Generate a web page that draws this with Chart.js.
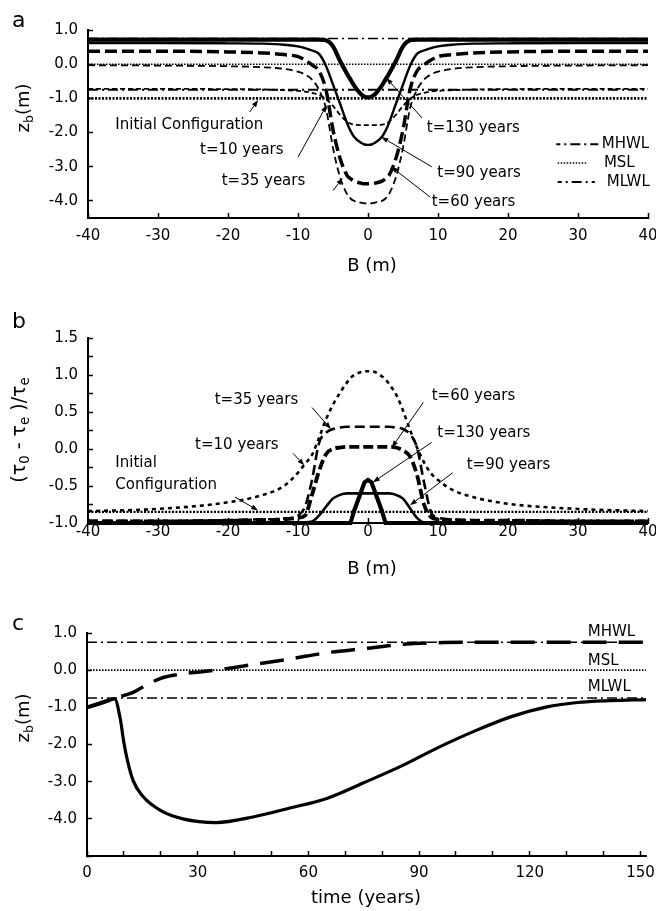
<!DOCTYPE html>
<html><head><meta charset="utf-8">
<script src="https://cdn.jsdelivr.net/npm/chart.js@4.4.0/dist/chart.umd.min.js"></script>
<style>
html,body{margin:0;padding:0;background:#fff;}
#wrap{position:relative;width:656px;height:911px;background:#fff;}
canvas{position:absolute;left:0;display:block;}
</style></head><body>
<div id="wrap">
<canvas id="ca" width="656" height="300" style="top:0;width:656px;height:300px"></canvas>
<canvas id="cb" width="656" height="300" style="top:300px;width:656px;height:300px"></canvas>
<canvas id="cc" width="656" height="311" style="top:600px;width:656px;height:311px"></canvas>
</div>
<script>
// ---------- DATA ----------
const B = [-40,-30,-20,-15,-12,-10,-9,-8,-7,-6,-5,-4,-3,-2.5,-2,-1,-0.5,0,0.5,1,2,2.5,3,4,5,6,7,8,9,10,12,15,20,30,40];
const levelNames = ['MHWL','MSL','MLWL'];
const levelValues = [0.75, 0.0, -0.75];
const initialBedA = -1.0;
const initialStressB = -0.85;

// panel a: bed elevation z_b (m) vs B (m)
const aT10 = [-0.72,-0.72,-0.73,-0.74,-0.76,-0.78,-0.8,-0.84,-0.9,-1.02,-1.22,-1.48,-1.68,-1.74,-1.77,-1.78,-1.78,-1.78,
              -1.78,-1.78,-1.77,-1.74,-1.68,-1.48,-1.22,-1.02,-0.9,-0.84,-0.8,-0.78,-0.76,-0.74,-0.73,-0.72,-0.72];
const aT35 = [-0.03,-0.04,-0.06,-0.09,-0.14,-0.22,-0.3,-0.45,-0.75,-1.3,-2.45,-3.3,-3.8,-3.93,-4.0,-4.05,-4.07,-4.07,
              -4.07,-4.05,-4.0,-3.93,-3.8,-3.3,-2.45,-1.3,-0.75,-0.45,-0.3,-0.22,-0.14,-0.09,-0.06,-0.04,-0.03];
const aT60 = [0.38,0.38,0.36,0.33,0.28,0.22,0.12,-0.02,-0.2,-0.75,-1.92,-2.75,-3.25,-3.35,-3.42,-3.48,-3.5,-3.5,
              -3.5,-3.48,-3.42,-3.35,-3.25,-2.75,-1.92,-0.75,-0.2,-0.02,0.12,0.22,0.28,0.33,0.36,0.38,0.38];
const aT90 = [0.62,0.62,0.61,0.6,0.57,0.52,0.47,0.4,0.3,-0.05,-0.6,-1.15,-1.72,-1.95,-2.12,-2.3,-2.35,-2.36,
              -2.35,-2.3,-2.12,-1.95,-1.72,-1.15,-0.6,-0.05,0.3,0.4,0.47,0.52,0.57,0.6,0.61,0.62,0.62];
const aT130 = [0.72,0.72,0.72,0.72,0.72,0.72,0.72,0.72,0.72,0.7,0.52,0.1,-0.28,-0.45,-0.62,-0.88,-0.95,-0.97,
               -0.95,-0.88,-0.62,-0.45,-0.28,0.1,0.52,0.7,0.72,0.72,0.72,0.72,0.72,0.72,0.72,0.72,0.72];

// panel b: excess shear stress (tau0 - taue)/taue vs B (m)
const bT10 = [-0.84,-0.81,-0.72,-0.62,-0.5,-0.32,-0.2,-0.08,0.15,0.4,0.6,0.76,0.9,0.96,1.0,1.04,1.05,1.05,
              1.05,1.04,0.98,0.94,0.88,0.74,0.52,0.26,0.02,-0.18,-0.33,-0.42,-0.55,-0.65,-0.74,-0.81,-0.84];
const bT35 = [-0.97,-0.97,-0.96,-0.95,-0.94,-0.9,-0.78,-0.42,0.08,0.22,0.27,0.29,0.3,0.3,0.3,0.3,0.3,0.3,
              0.3,0.3,0.3,0.3,0.3,0.29,0.27,0.2,0.02,-0.45,-0.85,-0.93,-0.95,-0.96,-0.96,-0.97,-0.97];
const bT60 = [-0.98,-0.98,-0.97,-0.96,-0.95,-0.93,-0.9,-0.62,-0.3,-0.07,0.0,0.02,0.03,0.03,0.03,0.03,0.03,0.03,
              0.03,0.03,0.03,0.03,0.03,0.02,-0.02,-0.1,-0.35,-0.75,-0.92,-0.95,-0.96,-0.97,-0.97,-0.98,-0.98];
const bT90 = [-0.99,-0.99,-0.99,-0.99,-0.99,-0.99,-0.99,-0.98,-0.9,-0.78,-0.67,-0.62,-0.6,-0.6,-0.6,-0.6,-0.6,-0.6,
              -0.6,-0.6,-0.6,-0.6,-0.6,-0.62,-0.67,-0.8,-0.93,-0.99,-0.99,-0.99,-0.99,-0.99,-0.99,-0.99,-0.99];
const bT130 = [-1.0,-1.0,-1.0,-1.0,-1.0,-1.0,-1.0,-1.0,-1.0,-1.0,-1.0,-1.0,-1.0,-1.0,-0.84,-0.58,-0.45,-0.42,
               -0.45,-0.58,-0.84,-1.0,-1.0,-1.0,-1.0,-1.0,-1.0,-1.0,-1.0,-1.0,-1.0,-1.0,-1.0,-1.0,-1.0];

// panel c: z_b (m) vs time (years)
const time = [0,3,6,7.5,9,10,11,12.5,15,20,26,35,45,55,65,75,85,95,105,115,125,133,142,151.5];
const centerBed = [-1.0,-0.92,-0.82,-0.77,-1.3,-1.95,-2.45,-2.97,-3.38,-3.78,-4.0,-4.1,-3.95,-3.71,-3.45,-3.03,-2.59,-2.09,-1.64,-1.25,-0.98,-0.87,-0.82,-0.79];
const farBed = [-1.0,-0.9,-0.8,-0.75,-0.71,-0.68,-0.65,-0.6,-0.46,-0.22,-0.1,0.0,0.15,0.3,0.47,0.58,0.69,0.74,0.75,0.75,0.75,0.75,0.75,0.75];

// tick values / labels
const aXTicks = [-40,-30,-20,-10,0,10,20,30,40];
const aYTicks = [-4,-3,-2,-1,0,1];
const bXTicks = [-40,-30,-20,-10,0,10,20,30,40];
const bYTicks = [-1,-0.75,-0.5,-0.25,0,0.25,0.5,0.75,1,1.25,1.5];
const bYLabels = [-1,-0.5,0,0.5,1,1.5];
const cXTicks = [0,10,20,30,40,50,60,70,80,90,100,110,120,130,140,150];
const cXLabels = [0,30,60,90,120,150];
const cYTicks = [-5,-4,-3,-2,-1,0,1];
const cYLabels = [-4,-3,-2,-1,0,1];

// ---------- HELPERS ----------
const FONT = '"DejaVu Sans", "Liberation Sans", sans-serif';
const pts = (xs, ys) => xs.map((x, i) => ({x, y: ys[i]}));
const flat = (x0, x1, v) => [{x: x0, y: v}, {x: x1, y: v}];

function line(data, width, dash, extra) {
  return Object.assign({data, borderColor: '#000', borderWidth: width, borderDash: dash || [],
    pointRadius: 0, fill: false, cubicInterpolationMode: 'monotone', clip: false,
    borderCapStyle: 'butt'}, extra || {});
}
function zeroPad(s) { s.paddingLeft = 0; s.paddingRight = 0; s.paddingTop = 0; s.paddingBottom = 0; }

function xAxis(min, max, ticks, labels, fmt, pad, height) {
  return {type: 'linear', min, max,
    afterBuildTicks: s => { s.ticks = ticks.map(v => ({value: v})); },
    afterFit: s => { s.height = height; zeroPad(s); },
    ticks: {autoSkip: false, maxRotation: 0, minRotation: 0, padding: pad, color: '#000',
      font: {family: FONT, size: 15}, callback: v => labels.includes(v) ? fmt(v) : ''},
    grid: {display: true, drawOnChartArea: false, drawTicks: true, tickLength: -5, tickWidth: 1.5, tickColor: '#000'},
    border: {display: true, color: '#000', width: 2}};
}
function yAxis(min, max, ticks, labels, fmt, width) {
  return {type: 'linear', min, max,
    afterBuildTicks: s => { s.ticks = ticks.map(v => ({value: v})); },
    afterFit: s => { s.width = width; zeroPad(s); },
    ticks: {autoSkip: false, padding: 15, color: '#000',
      font: {family: FONT, size: 15}, callback: v => labels.includes(v) ? fmt(v) : ''},
    grid: {display: true, drawOnChartArea: false, drawTicks: true, tickLength: -5, tickWidth: 1.5, tickColor: '#000'},
    border: {display: true, color: '#000', width: 2}};
}

function arrow(ctx, x1, y1, x2, y2) {
  ctx.save();
  ctx.strokeStyle = '#000'; ctx.fillStyle = '#000'; ctx.lineWidth = 1; ctx.setLineDash([]);
  const a = Math.atan2(y2 - y1, x2 - x1), L = 7, W = 2.5;
  const bx = x2 - L * Math.cos(a), by = y2 - L * Math.sin(a);
  ctx.beginPath(); ctx.moveTo(x1, y1); ctx.lineTo(bx, by); ctx.stroke();
  ctx.beginPath(); ctx.moveTo(x2, y2);
  ctx.lineTo(bx + W * Math.sin(a), by - W * Math.cos(a));
  ctx.lineTo(bx - W * Math.sin(a), by + W * Math.cos(a));
  ctx.closePath(); ctx.fill();
  ctx.restore();
}
function text(ctx, s, x, y, size, align, baseline) {
  ctx.save();
  ctx.font = size + 'px ' + FONT; ctx.fillStyle = '#000';
  ctx.textAlign = align || 'left'; ctx.textBaseline = baseline || 'middle';
  ctx.fillText(s, x, y);
  ctx.restore();
}
function rich(ctx, parts, cx, cy, size, rot) {
  ctx.save();
  ctx.translate(cx, cy); ctx.rotate(rot);
  let w = 0;
  for (const p of parts) { ctx.font = (p.sub ? size * 0.7 : size) + 'px ' + FONT; w += ctx.measureText(p.t).width; }
  let x = -w / 2;
  ctx.textBaseline = 'middle'; ctx.textAlign = 'left'; ctx.fillStyle = '#000';
  for (const p of parts) {
    const s = p.sub ? size * 0.7 : size;
    ctx.font = s + 'px ' + FONT;
    ctx.fillText(p.t, x, p.sub ? size * 0.3 : 0);
    x += ctx.measureText(p.t).width;
  }
  ctx.restore();
}
function P(chart, x, y) { return [chart.scales.x.getPixelForValue(x), chart.scales.y.getPixelForValue(y)]; }

const DASH_HW = [10, 4, 2, 4];
const DOT_MSL = [1.5, 1.5];
const DOT_INIT = [2, 1.5];

function annotPlugin(fn) { return {id: 'annot' + Math.random().toString(36).slice(2), afterDraw: chart => fn(chart, chart.ctx)}; }

const common = {responsive: false, animation: false, devicePixelRatio: 1,
  plugins: {legend: {display: false}, tooltip: {enabled: false}}, events: []};

// ---------- PANEL A ----------
new Chart(document.getElementById('ca'), {
  type: 'line',
  data: {datasets: [
    line(flat(-40, 40, levelValues[0]), 1.6, DASH_HW, {cubicInterpolationMode: 'default', tension: 0}),
    line(flat(-40, 40, levelValues[1]), 1.6, DOT_MSL, {cubicInterpolationMode: 'default', tension: 0}),
    line(flat(-40, 40, levelValues[2]), 2, DASH_HW, {cubicInterpolationMode: 'default', tension: 0}),
    line(flat(-40, 40, initialBedA), 2.6, DOT_INIT, {cubicInterpolationMode: 'default', tension: 0}),
    line(pts(B, aT10), 1.8, [5, 3]),
    line(pts(B, aT35), 1.8, [7, 4]),
    line(pts(B, aT60), 3.5, [12, 5]),
    line(pts(B, aT90), 2.4, []),
    line(pts(B, aT130), 4.2, [])
  ]},
  options: Object.assign({}, common, {
    layout: {padding: {top: 30, right: 8, left: 0, bottom: 0}},
    scales: {
      x: xAxis(-40, 40, aXTicks, aXTicks, v => String(v), 14, 82),
      y: yAxis(-4.5, 1.0, aYTicks, aYTicks, v => v.toFixed(1), 88)
    }
  }),
  plugins: [annotPlugin((c, ctx) => {
    text(ctx, 'a', 12, 27, 22, 'left', 'alphabetic');
    rich(ctx, [{t: 'z'}, {t: 'b', sub: true}, {t: '(m)'}], 24, 108, 18, -Math.PI / 2);
    text(ctx, 'B (m)', 372, 266, 18, 'center');
    const ann = [
      ['Initial Configuration', -36.1, -1.78, -16.9, -1.4, -15.7, -1.05],
      ['t=10 years', -24, -2.51, -10, -2.72, -5.9, -1.2],
      ['t=35 years', -20.9, -3.42, -5, -3.7, -3.6, -3.33],
      ['t=130 years', 8.4, -1.87, 7.7, -1.57, 2.6, -0.4],
      ['t=90 years', 9.9, -3.18, 9.1, -3.0, 1.9, -2.13],
      ['t=60 years', 9.1, -4.03, 8.9, -3.89, 3.3, -3.0]
    ];
    for (const a of ann) {
      const [tx, ty] = P(c, a[1], a[2]);
      text(ctx, a[0], tx, ty, 15);
      const [x1, y1] = P(c, a[3], a[4]); const [x2, y2] = P(c, a[5], a[6]);
      arrow(ctx, x1, y1, x2, y2);
    }
    // legend
    const leg = [[DASH_HW, 2, 26.9, 32.9, -2.34, 33.4], [DOT_MSL, 1.6, 27.1, 31.3, -2.89, 33.7], [DASH_HW, 2, 27.1, 32.4, -3.45, 34.1]];
    leg.forEach((l, i) => {
      const [x1, y] = P(c, l[2], l[4]); const [x2] = P(c, l[3], l[4]); const [tx] = P(c, l[5], l[4]);
      ctx.save(); ctx.strokeStyle = '#000'; ctx.lineWidth = l[1]; ctx.setLineDash(l[0]);
      ctx.lineDashOffset = 6;
      ctx.beginPath(); ctx.moveTo(x1, y); ctx.lineTo(x2, y); ctx.stroke(); ctx.restore();
      text(ctx, levelNames[i], tx, y, 15);
    });
  })]
});

// ---------- PANEL B ----------
new Chart(document.getElementById('cb'), {
  type: 'line',
  data: {datasets: [
    line(flat(-40, 40, initialStressB), 2.4, DOT_INIT, {cubicInterpolationMode: 'default', tension: 0}),
    line(pts(B, bT10), 2.6, [4, 4]),
    line(pts(B, bT35), 2.6, [10, 5]),
    line(pts(B, bT60), 3.8, [10, 4]),
    line(pts(B, bT90), 2.6, []),
    line(pts(B, bT130), 4.2, [], {cubicInterpolationMode: 'default', tension: 0})
  ]},
  options: Object.assign({}, common, {
    layout: {padding: {top: 38, right: 8, left: 0, bottom: 0}},
    scales: {
      x: xAxis(-40, 40, bXTicks, bXTicks, v => String(v), 5, 77),
      y: yAxis(-1.0, 1.5, bYTicks, bYLabels, v => v.toFixed(1), 88)
    }
  }),
  plugins: [annotPlugin((c, ctx) => {
    text(ctx, 'b', 12, 28, 22, 'left', 'alphabetic');
    rich(ctx, [{t: '('}, {t: 'τ'}, {t: '0', sub: true}, {t: ' - '}, {t: 'τ'}, {t: 'e', sub: true}, {t: ' )/'}, {t: 'τ'}, {t: 'e', sub: true}],
      20, 130, 19, -Math.PI / 2);
    text(ctx, 'B (m)', 372, 269, 18, 'center');
    const ann = [
      ['t=35 years', -21.9, 0.66, -8, 0.56, -5.3, 0.27],
      ['t=10 years', -24.7, 0.05, -10.7, -0.06, -9.1, -0.22],
      ['t=60 years', 9.1, 0.71, 7.9, 0.63, 3.4, 0.02],
      ['t=130 years', 9.9, 0.21, 9.1, 0.09, 0.7, -0.45],
      ['t=90 years', 14.1, -0.22, 12.1, -0.32, 6.0, -0.76]
    ];
    for (const a of ann) {
      const [tx, ty] = P(c, a[1], a[2]);
      text(ctx, a[0], tx, ty, 15);
      const [x1, y1] = P(c, a[3], a[4]); const [x2, y2] = P(c, a[5], a[6]);
      arrow(ctx, x1, y1, x2, y2);
    }
    let [tx, ty] = P(c, -36.1, -0.19); text(ctx, 'Initial', tx, ty, 15);
    [tx, ty] = P(c, -36.1, -0.49); text(ctx, 'Configuration', tx, ty, 15);
    const [x1, y1] = P(c, -19, -0.65); const [x2, y2] = P(c, -15.7, -0.83);
    arrow(ctx, x1, y1, x2, y2);
  })]
});

// ---------- PANEL C ----------
new Chart(document.getElementById('cc'), {
  type: 'line',
  data: {datasets: [
    line(flat(0, 151.5, levelValues[0]), 1.6, DASH_HW, {cubicInterpolationMode: 'default', tension: 0}),
    line(flat(0, 151.5, levelValues[1]), 1.6, DOT_MSL, {cubicInterpolationMode: 'default', tension: 0}),
    line(flat(0, 151.5, levelValues[2]), 1.6, DASH_HW, {cubicInterpolationMode: 'default', tension: 0}),
    line(pts(time, farBed), 3.5, [24, 12]),
    line(pts(time, centerBed), 3.2, [])
  ]},
  options: Object.assign({}, common, {
    layout: {padding: {top: 33, right: 10, left: 0, bottom: 0}},
    scales: {
      x: xAxis(0, 151.5, cXTicks, cXLabels, v => String(v), 13, 55),
      y: yAxis(-5.0, 1.0, cYTicks, cYLabels, v => v.toFixed(1), 87)
    }
  }),
  plugins: [annotPlugin((c, ctx) => {
    text(ctx, 'c', 12, 30, 22, 'left', 'alphabetic');
    rich(ctx, [{t: 'z'}, {t: 'b', sub: true}, {t: '(m)'}], 24, 118, 18, -Math.PI / 2);
    text(ctx, 'time (years)', 366, 298, 18, 'center');
    const pos = [1.03, 0.24, -0.46];
    levelNames.forEach((n, i) => {
      const [tx, ty] = P(c, 135.7, pos[i]);
      text(ctx, n, tx, ty, 15);
    });
  })]
});
</script>
</body></html>
